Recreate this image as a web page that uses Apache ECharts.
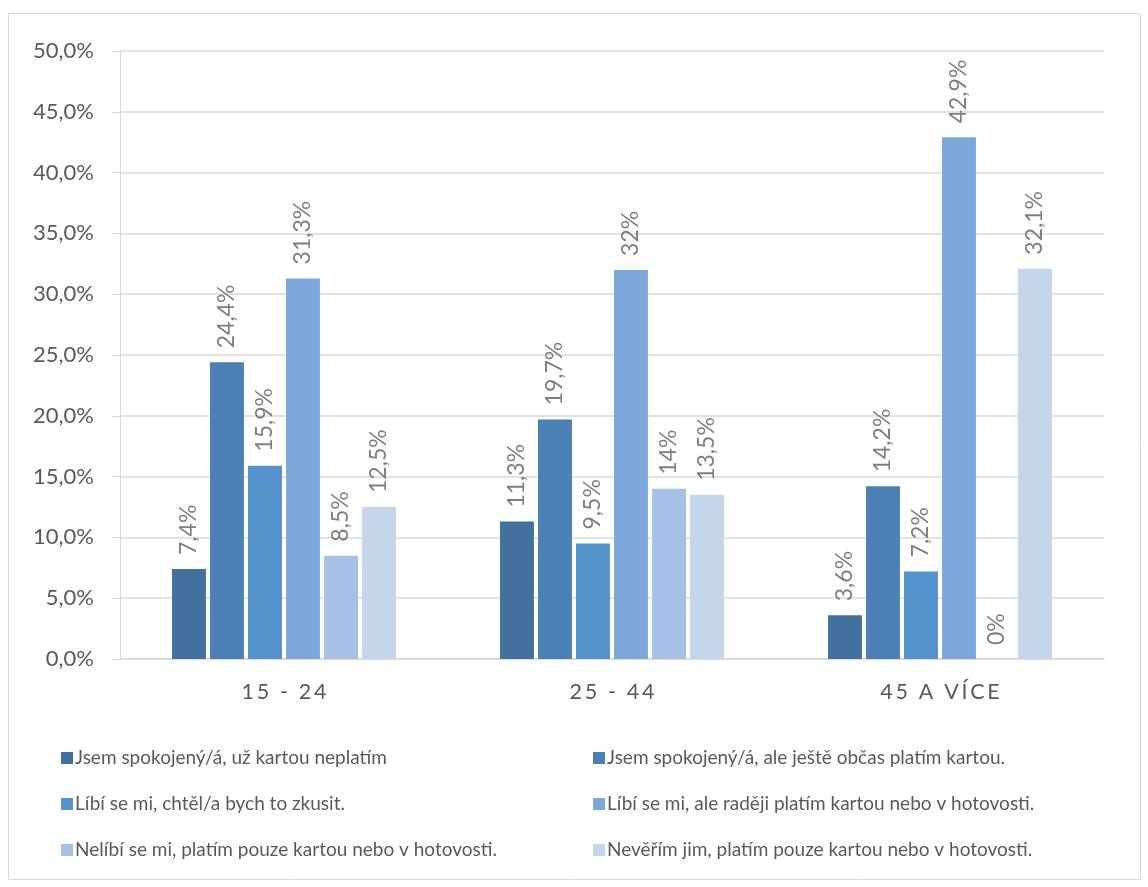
<!DOCTYPE html>
<html>
<head>
<meta charset="utf-8">
<script src="https://cdn.jsdelivr.net/npm/echarts@6/dist/echarts.min.js"></script>
<style>
  html, body { margin: 0; padding: 0; background: #fff; }
  #chart { width: 1148px; height: 887px; }
</style>
</head>
<body>
<div id="chart"></div>
<script>
// Age groups on the x axis
const categories = ['15 - 24', '25 - 44', '45 A VÍCE'];

// Answer options (legend order)
const seriesNames = [
  'Jsem spokojený/á, už kartou neplatím',
  'Jsem spokojený/á, ale ještě občas platím kartou.',
  'Líbí se mi, chtěl/a bych to zkusit.',
  'Líbí se mi, ale raději platím kartou nebo v hotovosti.',
  'Nelíbí se mi, platím pouze kartou nebo v hotovosti.',
  'Nevěřím jim, platím pouze kartou nebo v hotovosti.'
];

// Share of respondents (%) per answer, one value per age group
const spokojenyNeplatim = [7.4, 11.3, 3.6];
const spokojenyObcas    = [24.4, 19.7, 14.2];
const chtelZkusit       = [15.9, 9.5, 7.2];
const radejiKartou      = [31.3, 32, 42.9];
const nelibiSe          = [8.5, 14, 0];
const neverim           = [12.5, 13.5, 32.1];

const seriesValues = [spokojenyNeplatim, spokojenyObcas, chtelZkusit, radejiKartou, nelibiSe, neverim];
const seriesColors = ['#41719C', '#4A80B4', '#5593CD', '#7CA8D9', '#A6C1E4', '#C5D5EA'];

// Y axis ticks: 0 … 50 by 5
const yMin = 0, yMax = 50, yStep = 5;

const FONT = 'Lato, "Open Sans", "DejaVu Sans", sans-serif';
const pct = v => String(v).replace('.', ',') + '%';

const series = seriesNames.map((name, i) => ({
  name,
  type: 'bar',
  data: seriesValues[i],
  barGap: '12%',
  barCategoryGap: '31.7%',
  itemStyle: { color: seriesColors[i] },
  label: {
    show: true,
    position: 'top',
    rotate: 90,
    align: 'left',
    verticalAlign: 'middle',
    distance: 14,
    color: '#7F7F7F',
    fontSize: 23,
    fontFamily: FONT,
    formatter: p => pct(p.value)
  }
}));

const legendCommon = {
  orient: 'vertical',
  itemWidth: 12,
  itemHeight: 12,
  itemGap: 26,
  icon: 'rect',
  textStyle: { color: '#595959', fontSize: 19, lineHeight: 20, fontFamily: FONT, padding: [0, 0, 0, -3] }
};

const chart = echarts.init(document.getElementById('chart'));
chart.setOption({
  backgroundColor: '#fff',
  animation: false,
  graphic: [{
    type: 'rect',
    shape: { x: 8.5, y: 13.5, width: 1132, height: 866 },
    style: { fill: 'none', stroke: '#D9D9D9', lineWidth: 1 },
    silent: true
  }],
  grid: { left: 120, right: 44, top: 51, bottom: 228 },
  legend: [
    Object.assign({}, legendCommon, {
      left: 56, top: 743,
      data: [seriesNames[0], seriesNames[2], seriesNames[4]]
    }),
    Object.assign({}, legendCommon, {
      left: 588, top: 743,
      data: [seriesNames[1], seriesNames[3], seriesNames[5]]
    })
  ],
  xAxis: {
    type: 'category',
    data: categories,
    axisLine: { show: true, lineStyle: { color: '#D9D9D9', width: 1.5 } },
    axisTick: { show: false },
    axisLabel: {
      color: '#595959',
      fontSize: 21.5,
      fontFamily: FONT,
      margin: 22,
      formatter: v => v.split('').join('\u2009')
    }
  },
  yAxis: {
    type: 'value',
    min: yMin,
    max: yMax,
    interval: yStep,
    axisLine: { show: true, lineStyle: { color: '#D9D9D9' } },
    axisTick: { show: true, length: 8, lineStyle: { color: '#D9D9D9' } },
    splitLine: { lineStyle: { color: '#D9D9D9', width: 1.5 } },
    axisLabel: {
      color: '#595959',
      fontSize: 22,
      fontFamily: FONT,
      margin: 26,
      formatter: v => v.toFixed(1).replace('.', ',') + '%'
    }
  },
  series
});
</script>
</body>
</html>
